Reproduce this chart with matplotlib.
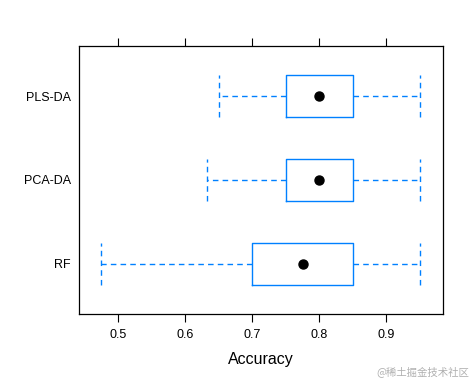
import matplotlib
matplotlib.use("Agg")
import matplotlib.pyplot as plt

models = ["RF", "PCA-DA", "PLS-DA"]
whisker_low = [0.475, 0.632, 0.65]
q1 = [0.70, 0.75, 0.75]
median = [0.775, 0.80, 0.80]
q3 = [0.85, 0.85, 0.85]
whisker_high = [0.95, 0.95, 0.95]
xticks = [0.5, 0.6, 0.7, 0.8, 0.9]

plt.rcParams['font.family'] = ['Liberation Sans', 'DejaVu Sans']
blue = '#0080ff'

fig = plt.figure(figsize=(4.74, 3.82), dpi=100)
ax = fig.add_axes([79/474, 1 - 314/382, (442.5-79)/474, (314-46)/382])

stats = []
for i, m in enumerate(models):
    stats.append(dict(label=m, whislo=whisker_low[i], q1=q1[i], med=median[i],
                      q3=q3[i], whishi=whisker_high[i], fliers=[]))
pos = list(range(1, len(models) + 1))
ax.bxp(stats, positions=pos, vert=False, widths=0.5, showfliers=False,
       boxprops=dict(color=blue, linewidth=1.0),
       whiskerprops=dict(color=blue, linewidth=1.0, linestyle=(0, (4, 3))),
       capprops=dict(color=blue, linewidth=1.0, linestyle=(0, (4, 3))),
       medianprops=dict(linewidth=0), capwidths=0.5)
ax.plot(median, pos, 'o', color='black', markersize=6.5, zorder=5)

ax.set_xlim(0.4419, 0.9835)
ax.set_ylim(0.4, 3.6)
ax.set_xticks(xticks)
ax.set_xticklabels([f"{t:.1f}" for t in xticks])
ax.set_yticks(pos)
ax.set_yticklabels(models)
ax.tick_params(axis='x', top=True, bottom=True, labeltop=False, direction='out',
               length=6, width=0.8, labelsize=9, pad=5)
ax.tick_params(axis='y', length=0, labelsize=9, pad=6)
for s in ax.spines.values():
    s.set_linewidth(0.9)
ax.set_xlabel("Accuracy", fontsize=11.5, labelpad=8)

fig.text(0.99, 0.012, "@稀土掘金技术社区", ha='right', va='bottom', fontsize=7.5,
         color='#b0b0b0', family=['Noto Sans CJK SC', 'DejaVu Sans'])

fig.savefig("out.png", dpi=100)
